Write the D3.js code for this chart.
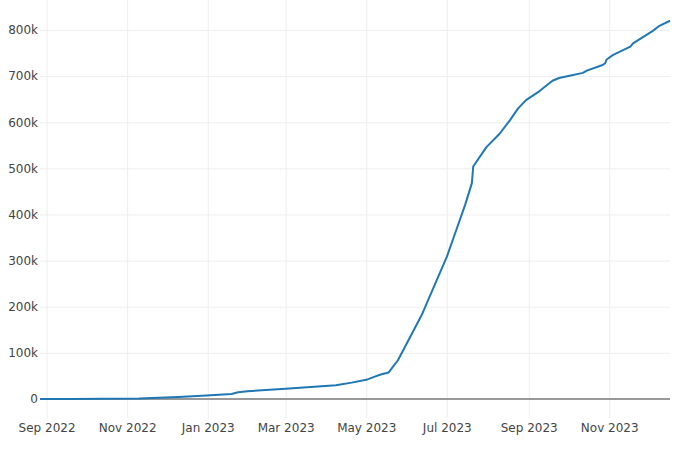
<!DOCTYPE html>
<html>
<head>
<meta charset="utf-8">
<script src="https://cdn.jsdelivr.net/npm/d3@7"></script>
<style>
  body { margin: 0; background: #fff; }
  svg text { font-family: "DejaVu Sans", Verdana, sans-serif; font-size: 12px; fill: #444; }
</style>
</head>
<body>
<div id="chart"></div>
<script>
// cumulative total
const dates = [
  "2022-08-27", "2022-09-20", "2022-10-15", "2022-11-10", "2022-11-25",
  "2022-12-10", "2022-12-31", "2023-01-19", "2023-01-24", "2023-01-31",
  "2023-03-01", "2023-04-08", "2023-04-20", "2023-05-01", "2023-05-07",
  "2023-05-12", "2023-05-18", "2023-05-25", "2023-06-12", "2023-06-18",
  "2023-07-01", "2023-07-10", "2023-07-15", "2023-07-20", "2023-07-21",
  "2023-07-31", "2023-08-10", "2023-08-18", "2023-08-24", "2023-08-30",
  "2023-09-09", "2023-09-19", "2023-09-24", "2023-10-02", "2023-10-12",
  "2023-10-15", "2023-10-27", "2023-10-29", "2023-10-30", "2023-11-04",
  "2023-11-17", "2023-11-19", "2023-12-04", "2023-12-09", "2023-12-17"
];
const totals = [
  0, 200, 500, 1000, 2500,
  4500, 7500, 11000, 14500, 17000,
  22000, 30000, 35500, 41500, 48000,
  53000, 57500, 84000, 182000, 222000,
  308000, 381000, 422000, 468000, 504000,
  546000, 575000, 605000, 630000, 648000,
  667000, 690000, 696000, 701000, 707000,
  712000, 724000, 728000, 736000, 746000,
  764000, 771000, 798000, 809000, 820000
];
const yTicks = [0, 100000, 200000, 300000, 400000, 500000, 600000, 700000, 800000];

const width = 700, height = 450;
const margin = { left: 40, right: 670, top: 0, bottom: 418 };

const parse = d3.timeParse("%Y-%m-%d");
const points = dates.map((d, i) => ({ date: parse(d), value: totals[i] }));

const svg = d3.select("#chart").append("svg")
  .attr("width", width)
  .attr("height", height);

const x = d3.scaleTime()
  .domain([parse("2022-08-27"), parse("2023-12-17")])
  .range([margin.left, margin.right]);

const y = d3.scaleLinear()
  .domain([-41200, 865000])
  .range([margin.bottom, margin.top]);

// grid + tick labels, x
const xAxis = svg.append("g")
  .attr("transform", `translate(0, ${margin.bottom})`)
  .call(d3.axisBottom(x)
    .ticks(d3.timeMonth.every(2))
    .tickFormat(d3.timeFormat("%b %Y"))
    .tickSize(-(margin.bottom - margin.top))
    .tickPadding(5));
xAxis.select(".domain").remove();
xAxis.selectAll(".tick line").attr("stroke", "#eee");

// grid + tick labels, y
const yAxis = svg.append("g")
  .attr("transform", `translate(${margin.left}, 0)`)
  .call(d3.axisLeft(y)
    .tickValues(yTicks)
    .tickFormat(d3.format("~s"))
    .tickSize(-(margin.right - margin.left))
    .tickPadding(2));
yAxis.select(".domain").remove();
yAxis.selectAll(".tick line").attr("stroke", d => d === 0 ? "none" : "#eee");

// zero line
svg.append("line")
  .attr("x1", margin.left).attr("x2", margin.right)
  .attr("y1", y(0)).attr("y2", y(0))
  .attr("stroke", "#999")
  .attr("stroke-width", 2);

const line = d3.line()
  .x(d => x(d.date))
  .y(d => y(d.value));

svg.append("path")
  .datum(points)
  .attr("fill", "none")
  .attr("stroke", "#1f77b4")
  .attr("stroke-width", 2)
  .attr("stroke-linejoin", "round")
  .attr("d", line);
</script>
</body>
</html>
